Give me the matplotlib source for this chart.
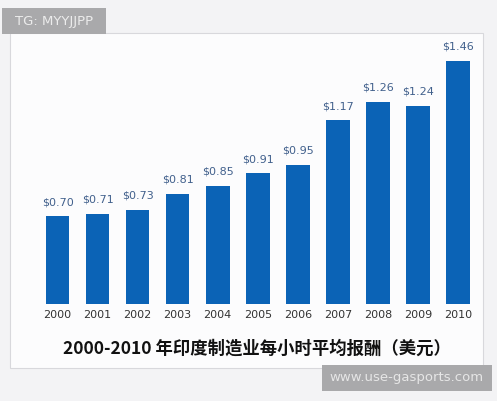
import matplotlib
matplotlib.use("Agg")
import matplotlib.pyplot as plt
from matplotlib.patches import Rectangle

years = ["2000", "2001", "2002", "2003", "2004", "2005", "2006", "2007", "2008", "2009", "2010"]
wages = [0.70, 0.71, 0.73, 0.81, 0.85, 0.91, 0.95, 1.17, 1.26, 1.24, 1.46]
title = "2000-2010 年印度制造业每小时平均报酬（美元）"
wm_top = "TG: MYYJJPP"
wm_bottom = "www.use-gasports.com"

W, H = 497, 401
fig = plt.figure(figsize=(W / 100, H / 100), dpi=100)
fig.patch.set_facecolor("#f3f3f5")

def px(x0, y0, x1, y1):
    return [x0 / W, 1 - y1 / H, (x1 - x0) / W, (y1 - y0) / H]

# white panel
bg = fig.add_axes([0, 0, 1, 1])
bg.set_xlim(0, W); bg.set_ylim(H, 0); bg.axis("off")
bg.add_patch(Rectangle((10, 33), 473, 335, facecolor="#fcfcfd", edgecolor="#d8d8dc", lw=0.8))
bg.add_patch(Rectangle((2, 8), 104, 26, facecolor="#a9a9ab", edgecolor="none"))
bg.text(54, 21.5, wm_top, ha="center", va="center", color="#ececec", fontsize=9.5,
        family=["DejaVu Sans"])
bg.add_patch(Rectangle((322, 365), 170, 26, facecolor="#a9a9ab", edgecolor="none"))
bg.text(407, 378, wm_bottom, ha="center", va="center", color="#e6e6e6", fontsize=9.5,
        family=["DejaVu Sans"])
bg.text(257, 349, title, ha="center", va="center", color="#111111", fontsize=12.5,
        fontweight="bold", family=["Noto Sans CJK SC", "DejaVu Sans"])

ax = fig.add_axes(px(37.5, 40, 478, 304))
ax.patch.set_alpha(0)
x = list(range(len(years)))
ax.bar(x, wages, width=0.59, color="#0b63b6", zorder=2)
ax.set_xlim(-0.5, 10.5)
ax.set_ylim(0.27, 1.563)
for xi, v in zip(x, wages):
    ax.text(xi, v + 0.045, f"${v:.2f}", ha="center", va="bottom", fontsize=8,
            color="#41608c", family=["DejaVu Sans"])
ax.set_xticks(x)
ax.set_xticklabels(years, fontsize=8, color="#333333", family=["DejaVu Sans"])
ax.tick_params(axis="x", length=0, pad=4)
ax.set_yticks([])
for s in ax.spines.values():
    s.set_visible(False)

fig.savefig("out.png", dpi=100, facecolor=fig.get_facecolor())
